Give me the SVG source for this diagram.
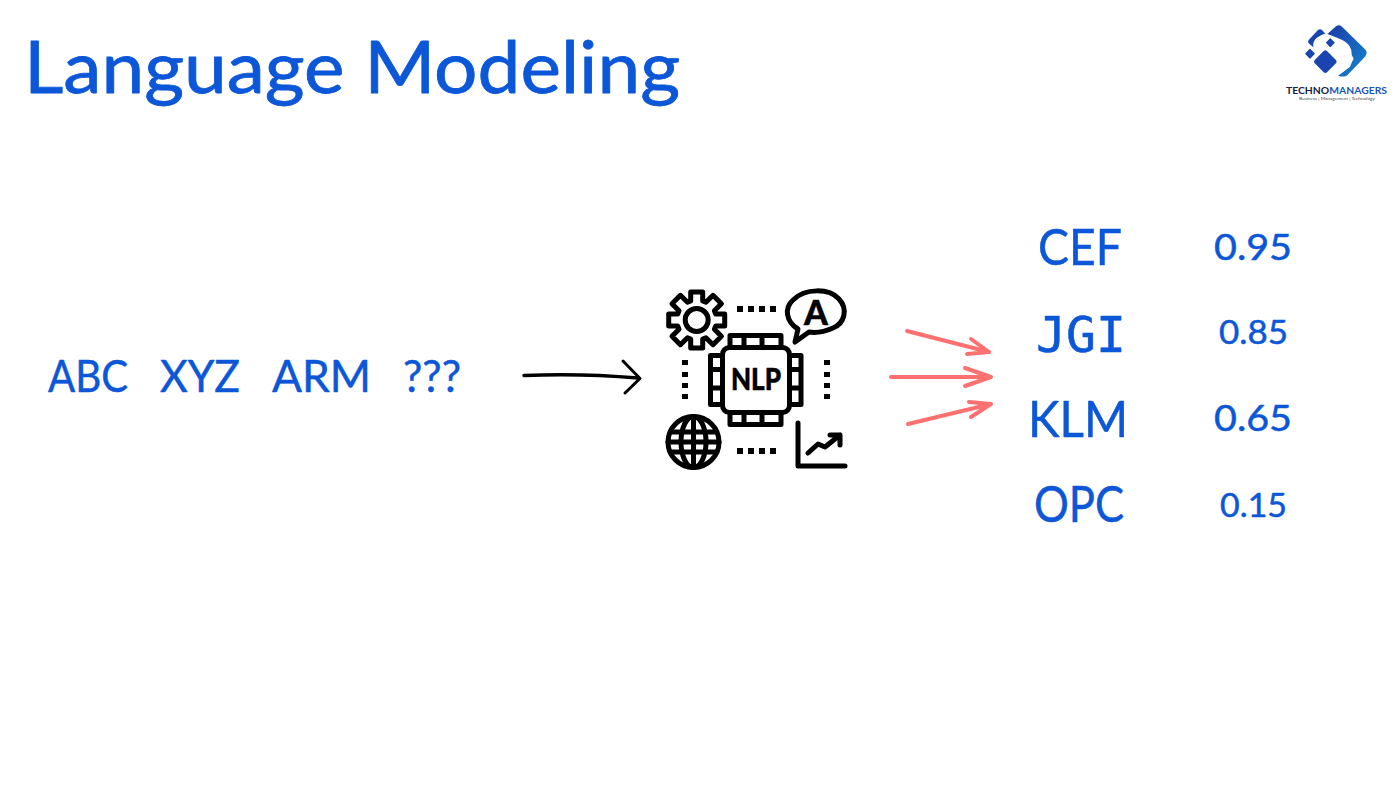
<svg xmlns="http://www.w3.org/2000/svg" width="1400" height="788" viewBox="0 0 1400 788">
<style>
text{font-family:"Lato","Noto Sans","Liberation Sans",sans-serif;fill:#0b57d8;stroke:#0b57d8;stroke-width:.5;stroke-linejoin:round}
.ink{fill:#000;stroke:#000;stroke-width:.5}
.ic{fill:none;stroke:#000;stroke-width:5;stroke-linejoin:round;stroke-linecap:round}
.dot{fill:#000}
.red{fill:none;stroke:#ff7070;stroke-width:4;stroke-linecap:round;stroke-linejoin:round}
.d{fill:#1a45b0}
</style>
<defs>
<linearGradient id="lg" x1="0" y1="0" x2="1" y2="1"><stop offset="0" stop-color="#1b3aa8"/><stop offset="1" stop-color="#1488d0"/></linearGradient>
</defs>
<rect width="1400" height="788" fill="#fff"/>
<g id="title"><text x="24" y="93" font-size="72" textLength="656" lengthAdjust="spacingAndGlyphs" style="stroke-width:.8">Language Modeling</text></g>
<g id="logo">
<g transform="translate(1270 10) scale(.3333)">
<path fill="url(#lg)" d="M172 72L198 49Q207 42 216 50L285 118Q295 128 285 140L232 196Q224 203 204 197Q226 182 240 170L246 156L251 146L245 134Q246 100 208 86Q190 78 172 72Z"/>
<rect class="d" x="-26" y="-26" width="52" height="52" rx="7" transform="translate(166 155) rotate(45)"/>
<rect class="d" x="-10" y="-10" width="20" height="20" rx="3" transform="translate(181 98) rotate(45)"/>
<rect class="d" x="-11" y="-11" width="22" height="22" rx="3" transform="translate(120 131) rotate(45)"/>
<path class="d" d="M116 90L144 60Q150 56 156 60L166 71Q150 74 136 88Q128 97 130 112L116 100Q112 95 116 90Z"/>
</g>
<text x="1286" y="93.500" font-size="9" font-weight="700" textLength="101" lengthAdjust="spacingAndGlyphs" style="fill:#14233f;stroke:none">TECHNO<tspan style="fill:#1a57b8">MANAGERS</tspan></text>
<text x="1299" y="99.500" font-size="4.500" textLength="76" lengthAdjust="spacingAndGlyphs" style="fill:#444;stroke:none">Business | Management | Technology</text>
</g>
<g id="input">
<text x="48" y="392" font-size="44" textLength="80" lengthAdjust="spacingAndGlyphs">ABC</text>
<text x="160" y="392" font-size="44" textLength="80" lengthAdjust="spacingAndGlyphs">XYZ</text>
<text x="272" y="392" font-size="44" textLength="99" lengthAdjust="spacingAndGlyphs">ARM</text>
<text x="403" y="392" font-size="44" textLength="58" lengthAdjust="spacingAndGlyphs">???</text>
</g>
<g id="nlp">
<g id="chip">
<rect class="ic" x="722.500" y="347.500" width="67" height="65" rx="7" stroke-width="6"/>
<path class="ic" d="M730 345V335.500H744V345M744 335.500H762V345M762 335.500H781V345M730 415V424.500H744V415M744 424.500H762V415M762 424.500H781V415M720 355.500H710.500V369.500H720M710.500 369.500V388H720M710.500 388V404.500H720M792 355.500H801V369.500H792M801 369.500V388H792M801 388V404.500H792"/>
<text class="ink" x="731" y="390" font-size="30" font-weight="900" textLength="50" lengthAdjust="spacingAndGlyphs">NLP</text>
</g>
<g id="gear">
<circle class="ic" cx="696.700" cy="320" r="11.500"/>
<path class="ic" transform="translate(696.700 320)" d="M-6 -19L-6 -28L6 -28L6 -19L9.200 -17.700L16.300 -24.700L24.700 -16.300L17.700 -9.200L19 -6L28 -6L28 6L19 6L17.700 9.200L24.700 16.300L16.300 24.700L9.200 17.700L6 19L6 28L-6 28L-6 19L-9.200 17.700L-16.300 24.700L-24.700 16.300L-17.700 9.200L-19 6L-28 6L-28 -6L-19 -6L-17.700 -9.200L-24.700 -16.300L-16.300 -24.700L-9.200 -17.700Z"/>
</g>
<g id="speech">
<path class="ic" d="M798 329C786 322 784 308 793 300C805 288 829 288 839 299C848 309 845 323 833 328C824 332 815 333 809 332L795 342Z"/>
<text class="ink" x="816" y="325" font-size="34" font-weight="900" text-anchor="middle">A</text>
</g>
<g id="globe">
<circle class="ic" cx="693.500" cy="442" r="25.500"/>
<ellipse class="ic" cx="693.500" cy="442" rx="12.500" ry="25.500"/>
<path class="ic" d="M693.500 417V467M668 442H719M672 432H715M672 452H715"/>
</g>
<g id="chart">
<path class="ic" d="M798 423V466H845" stroke-width="5.500"/>
<path class="ic" d="M808 453L818 444L825 447L840 435M830 435H840V445" stroke-width="5.500"/>
</g>
<g id="dots">
<rect class="dot" x="737" y="306" width="6" height="6"/><rect class="dot" x="748" y="306" width="6" height="6"/><rect class="dot" x="759" y="306" width="6" height="6"/><rect class="dot" x="770" y="306" width="6" height="6"/>
<rect class="dot" x="737" y="448" width="6" height="6"/><rect class="dot" x="748" y="448" width="6" height="6"/><rect class="dot" x="759" y="448" width="6" height="6"/><rect class="dot" x="770" y="448" width="6" height="6"/>
<rect class="dot" x="682" y="360" width="6" height="5"/><rect class="dot" x="682" y="372" width="6" height="5"/><rect class="dot" x="682" y="383" width="6" height="5"/><rect class="dot" x="682" y="394" width="6" height="5"/>
<rect class="dot" x="824" y="360" width="6" height="5"/><rect class="dot" x="824" y="372" width="6" height="5"/><rect class="dot" x="824" y="383" width="6" height="5"/><rect class="dot" x="824" y="394" width="6" height="5"/>
</g>
</g>
<g id="connectors">
<path d="M524 375.500Q580 373 638 378" fill="none" stroke="#000" stroke-width="3.500" stroke-linecap="round"/>
<path d="M623 361L640 378.500L625 393" fill="none" stroke="#000" stroke-width="3" stroke-linecap="round" stroke-linejoin="round"/>
<path class="red" d="M907 331L989 352M971 339L989 352L967 354"/>
<path class="red" d="M891 377H991M965 368L991 377L965 386"/>
<path class="red" d="M908 424L991 404M969 402L991 404L971 417"/>
</g>
<g id="outputs">
<text x="1038" y="265" font-size="50" textLength="84" lengthAdjust="spacingAndGlyphs">CEF</text>
<text x="1036" y="352" font-size="50" textLength="90" lengthAdjust="spacingAndGlyphs" style="font-family:'DejaVu Sans Mono','Liberation Mono',monospace">JGI</text>
<text x="1028" y="437" font-size="50" textLength="100" lengthAdjust="spacingAndGlyphs">KLM</text>
<text x="1034" y="522" font-size="50" textLength="90" lengthAdjust="spacingAndGlyphs">OPC</text>
<text x="1214" y="260" font-size="36" textLength="78" lengthAdjust="spacingAndGlyphs">0.95</text>
<text x="1219" y="344" font-size="32" textLength="69" lengthAdjust="spacingAndGlyphs">0.85</text>
<text x="1214" y="431" font-size="36" textLength="78" lengthAdjust="spacingAndGlyphs">0.65</text>
<text x="1220" y="517" font-size="32" textLength="67" lengthAdjust="spacingAndGlyphs">0.15</text>
</g>
</svg>
